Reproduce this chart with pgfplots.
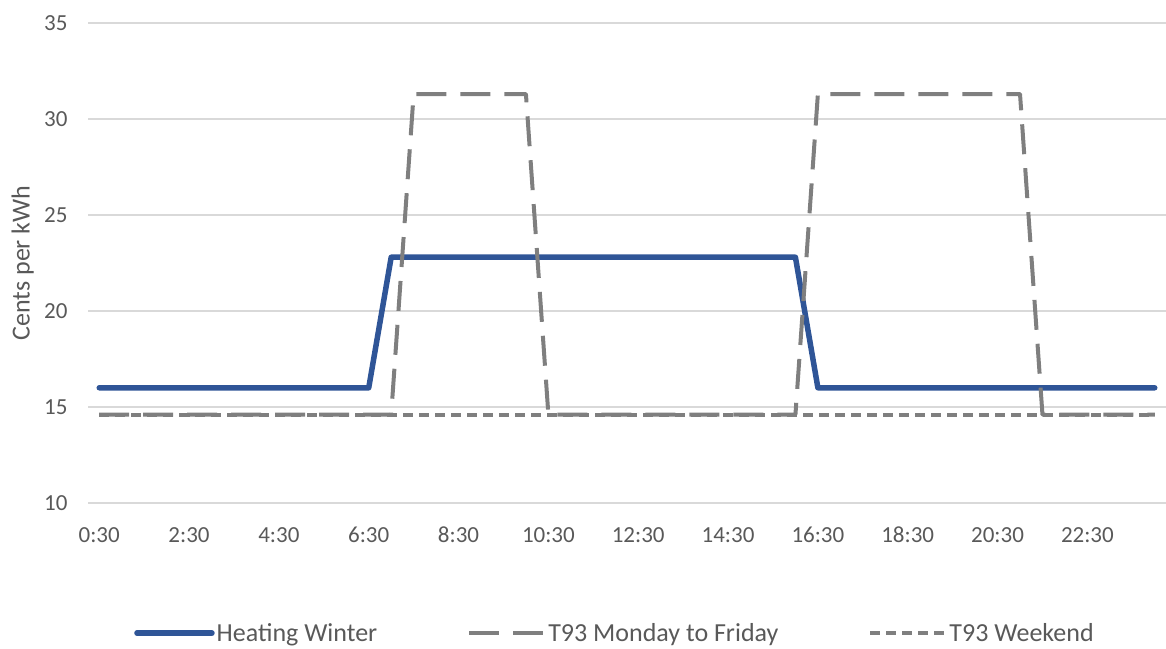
\documentclass[border=0pt]{standalone}
\usepackage{fontspec}
\setmainfont{Carlito}
\usepackage{pgfplots}
\pgfplotsset{compat=1.18}
\definecolor{hblue}{HTML}{2F5597}
\definecolor{tgray}{HTML}{7F7F7F}
\definecolor{gridc}{HTML}{D9D9D9}
\definecolor{txt}{HTML}{595959}
\begin{document}
\begin{tikzpicture}[x=1pt,y=1pt]
\useasboundingbox (0,0) rectangle (1166,648);
\begin{axis}[
  at={(88pt,145pt)}, anchor=south west,
  scale only axis, width=1078pt, height=480pt,
  xmin=-0.5, xmax=47.5, ymin=10, ymax=35,
  xtick={0,4,...,44},
  xticklabels={0:30,2:30,4:30,6:30,8:30,10:30,12:30,14:30,16:30,18:30,20:30,22:30},
  ytick={10,15,...,35},
  /pgf/number format/assume math mode=true,
  xmajorgrids=false, ymajorgrids=true, major grid style={draw=gridc, line width=1.3pt},
  axis line style={draw=none}, major tick length=0pt,
  tick label style={font=\fontsize{23}{26}\selectfont, text=txt},
  y tick label style={xshift=-17pt},
  x tick label style={yshift=-20pt, text height=16pt, text depth=4pt},
  ylabel={Cents per kWh},
  ylabel style={at={(axis description cs:-0.0605,0.5)}, anchor=center, font=\fontsize{26}{30}\selectfont, text=txt},
  legend style={at={(axis description cs:0.0427,-0.271)}, anchor=west, draw=none, fill=none,
    legend columns=3, font=\fontsize{26}{30}\selectfont, text=txt,
    /tikz/every even column/.append style={column sep=88pt},
    inner xsep=0pt, nodes={inner xsep=2pt}},
  legend image code/.code={\draw[#1] (0pt,0pt) -- (75pt,0pt);},
  every axis plot/.append style={line join=round},
]
\addplot[hblue, line width=5.5pt, line cap=round] coordinates {
(0,16) (1,16) (2,16) (3,16) (4,16) (5,16) (6,16) (7,16) (8,16) (9,16) (10,16) (11,16) (12,16)
(13,22.8) (14,22.8) (15,22.8) (16,22.8) (17,22.8) (18,22.8) (19,22.8) (20,22.8) (21,22.8) (22,22.8)
(23,22.8) (24,22.8) (25,22.8) (26,22.8) (27,22.8) (28,22.8) (29,22.8) (30,22.8) (31,22.8)
(32,16) (33,16) (34,16) (35,16) (36,16) (37,16) (38,16) (39,16) (40,16) (41,16) (42,16) (43,16)
(44,16) (45,16) (46,16) (47,16)};
\addlegendentry{Heating Winter}
\addplot[tgray, line width=4pt, dash pattern=on 30pt off 14pt] coordinates {
(0,14.6) (1,14.6) (2,14.6) (3,14.6) (4,14.6) (5,14.6) (6,14.6) (7,14.6) (8,14.6) (9,14.6) (10,14.6)
(11,14.6) (12,14.6) (13,14.6)
(14,31.3) (15,31.3) (16,31.3) (17,31.3) (18,31.3) (19,31.3)
(20,14.6) (21,14.6) (22,14.6) (23,14.6) (24,14.6) (25,14.6) (26,14.6) (27,14.6) (28,14.6) (29,14.6)
(30,14.6) (31,14.6)
(32,31.3) (33,31.3) (34,31.3) (35,31.3) (36,31.3) (37,31.3) (38,31.3) (39,31.3) (40,31.3) (41,31.3)
(42,14.6) (43,14.6) (44,14.6) (45,14.6) (46,14.6) (47,14.6)};
\addlegendentry{T93 Monday to Friday}
\addplot[tgray, line width=4pt, dash pattern=on 10pt off 6pt] coordinates {
(0,14.6) (1,14.6) (2,14.6) (3,14.6) (4,14.6) (5,14.6) (6,14.6) (7,14.6) (8,14.6) (9,14.6) (10,14.6)
(11,14.6) (12,14.6) (13,14.6) (14,14.6) (15,14.6) (16,14.6) (17,14.6) (18,14.6) (19,14.6)
(20,14.6) (21,14.6) (22,14.6) (23,14.6) (24,14.6) (25,14.6) (26,14.6) (27,14.6) (28,14.6) (29,14.6)
(30,14.6) (31,14.6) (32,14.6) (33,14.6) (34,14.6) (35,14.6) (36,14.6) (37,14.6) (38,14.6) (39,14.6)
(40,14.6) (41,14.6) (42,14.6) (43,14.6) (44,14.6) (45,14.6) (46,14.6) (47,14.6)};
\addlegendentry{T93 Weekend}
\end{axis}
\end{tikzpicture}
\end{document}
